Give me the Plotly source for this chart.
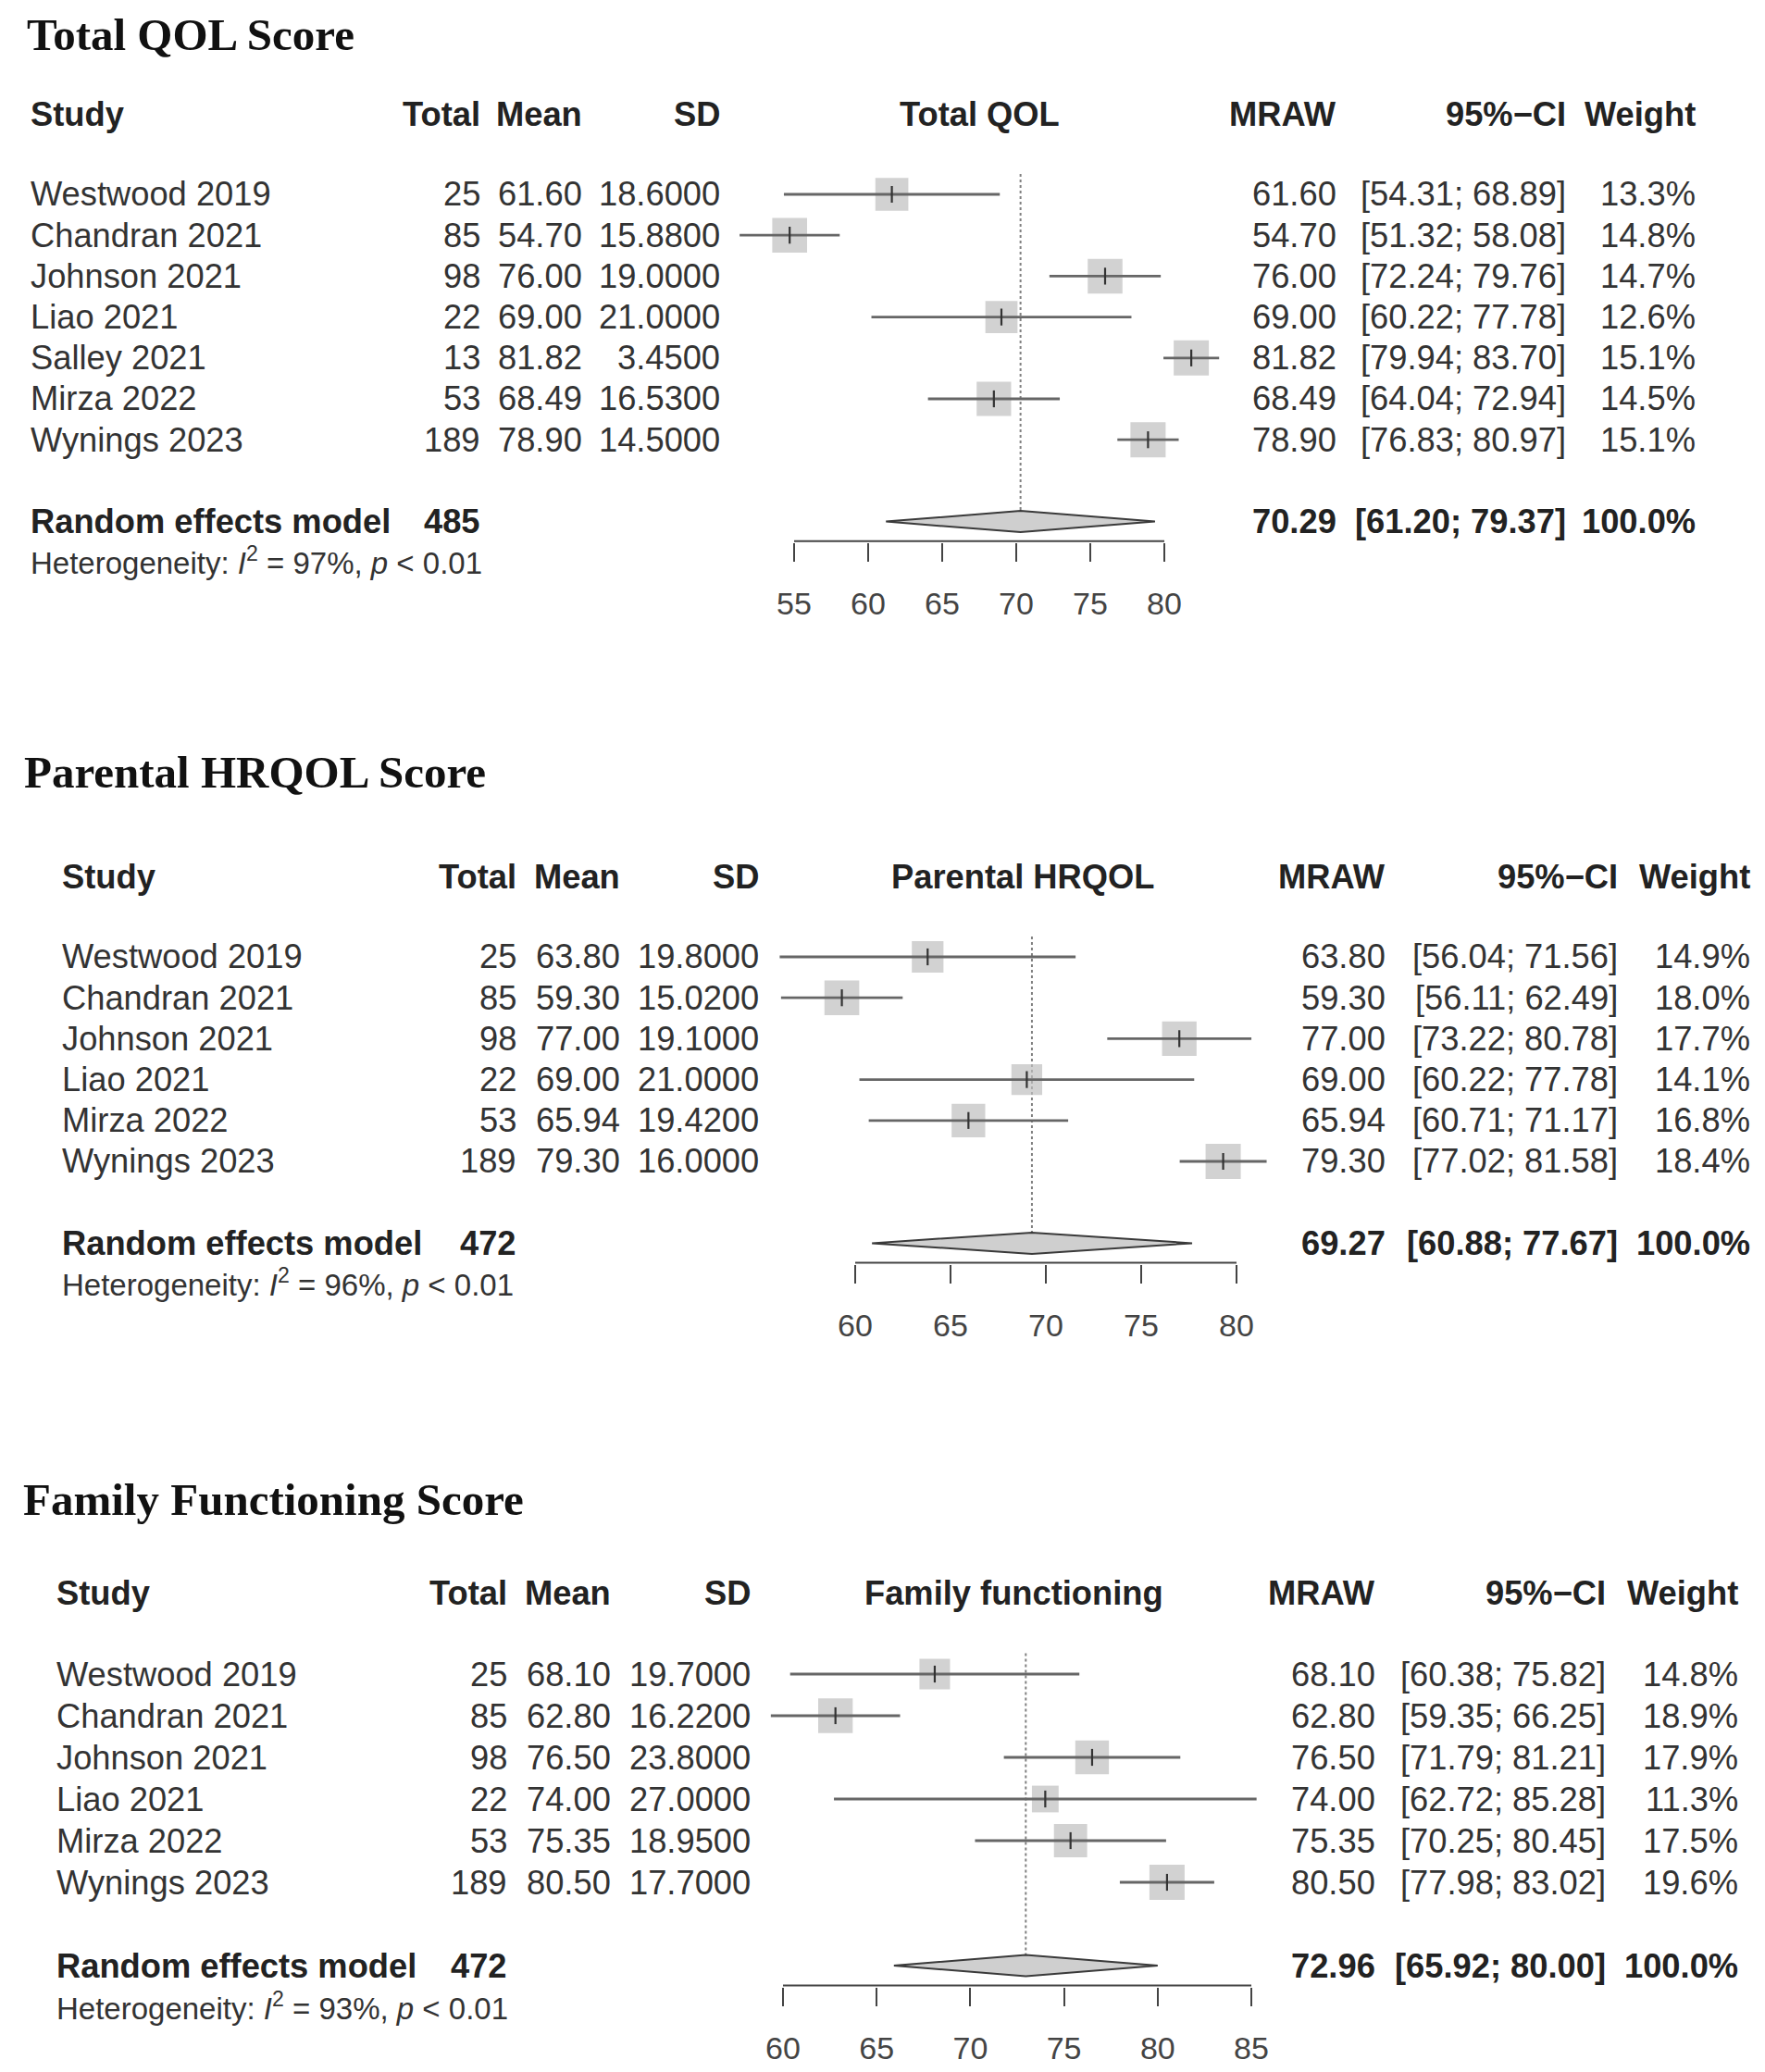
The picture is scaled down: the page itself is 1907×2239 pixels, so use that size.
import plotly.graph_objects as go

PAGE_W, PAGE_H = 1907, 2239
OFF = 8                      # default body margin of the html page
W, H = PAGE_W - 2 * OFF, PAGE_H - 2 * OFF

# ---------------- data ----------------
titles = ["Total QOL Score", "Parental HRQOL Score", "Family Functioning Score"]
plot_labels = ["Total QOL", "Parental HRQOL", "Family functioning"]

studies1 = ["Westwood 2019", "Chandran 2021", "Johnson 2021", "Liao 2021",
            "Salley 2021", "Mirza 2022", "Wynings 2023"]
total1 = [25, 85, 98, 22, 13, 53, 189]
mean1 = [61.60, 54.70, 76.00, 69.00, 81.82, 68.49, 78.90]
sd1 = [18.6, 15.88, 19.0, 21.0, 3.45, 16.53, 14.5]
lower1 = [54.31, 51.32, 72.24, 60.22, 79.94, 64.04, 76.83]
upper1 = [68.89, 58.08, 79.76, 77.78, 83.70, 72.94, 80.97]
weight1 = [13.3, 14.8, 14.7, 12.6, 15.1, 14.5, 15.1]
re1 = [70.29, 61.20, 79.37]
re_total1 = 485
i2_1 = 97
ticks1 = [55, 60, 65, 70, 75, 80]

studies2 = ["Westwood 2019", "Chandran 2021", "Johnson 2021", "Liao 2021",
            "Mirza 2022", "Wynings 2023"]
total2 = [25, 85, 98, 22, 53, 189]
mean2 = [63.80, 59.30, 77.00, 69.00, 65.94, 79.30]
sd2 = [19.8, 15.02, 19.1, 21.0, 19.42, 16.0]
lower2 = [56.04, 56.11, 73.22, 60.22, 60.71, 77.02]
upper2 = [71.56, 62.49, 80.78, 77.78, 71.17, 81.58]
weight2 = [14.9, 18.0, 17.7, 14.1, 16.8, 18.4]
re2 = [69.27, 60.88, 77.67]
re_total2 = 472
i2_2 = 96
ticks2 = [60, 65, 70, 75, 80]

studies3 = ["Westwood 2019", "Chandran 2021", "Johnson 2021", "Liao 2021",
            "Mirza 2022", "Wynings 2023"]
total3 = [25, 85, 98, 22, 53, 189]
mean3 = [68.10, 62.80, 76.50, 74.00, 75.35, 80.50]
sd3 = [19.7, 16.22, 23.8, 27.0, 18.95, 17.7]
lower3 = [60.38, 59.35, 71.79, 62.72, 70.25, 77.98]
upper3 = [75.82, 66.25, 81.21, 85.28, 80.45, 83.02]
weight3 = [14.8, 18.9, 17.9, 11.3, 17.5, 19.6]
re3 = [72.96, 65.92, 80.00]
re_total3 = 472
i2_3 = 93
ticks3 = [60, 65, 70, 75, 80, 85]

panels_data = [
    dict(studies=studies1, total=total1, mean=mean1, sd=sd1, lower=lower1, upper=upper1,
         weight=weight1, re=re1, re_total=re_total1, i2=i2_1, ticks=ticks1),
    dict(studies=studies2, total=total2, mean=mean2, sd=sd2, lower=lower2, upper=upper2,
         weight=weight2, re=re2, re_total=re_total2, i2=i2_2, ticks=ticks2),
    dict(studies=studies3, total=total3, mean=mean3, sd=sd3, lower=lower3, upper=upper3,
         weight=weight3, re=re3, re_total=re_total3, i2=i2_3, ticks=ticks3),
]

# ---------------- layout (page-pixel geometry) ----------------
geom = [
    dict(title_x=27, title_y=33, y0=210, d=44.2, px_t0=858, px_t1=1258,
         c_study=31, c_total=521, c_mean=631, c_sd=780, c_mraw=1446, c_ci=1694, c_w=1834),
    dict(title_x=24, title_y=836, y0=1034, d=44.2, px_t0=924, px_t1=1336,
         c_study=65, c_total=560, c_mean=672, c_sd=822, c_mraw=1499, c_ci=1750, c_w=1893),
    dict(title_x=23, title_y=1622, y0=1809, d=45.0, px_t0=846, px_t1=1352,
         c_study=59, c_total=550, c_mean=662, c_sd=813, c_mraw=1488, c_ci=1737, c_w=1880),
]


def paper_x(px):
    return (px - OFF) / W


def paper_y(py):
    return 1 - (py - OFF) / H


SANS = "Liberation Sans, Arial, sans-serif"
SERIF = "Liberation Serif, Times New Roman, serif"
TXT = "#333333"
HDR = "#222222"
FS = 36.3
FS_HET = 33
SQ_MAX = 38
TITLE_HALF = 31   # half height of the title text box, px

fig = go.Figure()
annotations = []
layout_axes = {}

for k, (pdat, g) in enumerate(zip(panels_data, geom), start=1):
    n = len(pdat["studies"])
    xr = f"x{k}" if k > 1 else "x"
    yr = f"y{k}" if k > 1 else "y"
    rows = list(range(n))
    re_row = n + 1
    hdr_row = -1.95
    het_row = re_row + 0.97
    axis_row = re_row + 0.48
    top_row = -2.7

    # x axis geometry
    t0, t1 = pdat["ticks"][0], pdat["ticks"][-1]
    s = (g["px_t1"] - g["px_t0"]) / (t1 - t0)
    xa, xb = t0 - 8, t1 + 8
    xdom = [paper_x(g["px_t0"] + (xa - t0) * s), paper_x(g["px_t0"] + (xb - t0) * s)]
    # y axis geometry
    y_bottom = axis_row + 0.03
    ydom = [paper_y(g["y0"] + y_bottom * g["d"]), paper_y(g["y0"] + top_row * g["d"])]

    sfx = str(k) if k > 1 else ""
    layout_axes[f"xaxis{sfx}"] = dict(
        domain=xdom, range=[xa, xb], anchor=yr, tickvals=pdat["ticks"],
        ticktext=[str(t) for t in pdat["ticks"]],
        ticks="outside", ticklen=20, tickwidth=2, tickcolor="#444444",
        showgrid=False, zeroline=False, showline=False, fixedrange=True,
        tickfont=dict(family=SANS, size=34, color="#444444"), ticklabelstandoff=16)
    layout_axes[f"yaxis{sfx}"] = dict(
        domain=ydom, range=[y_bottom, top_row], anchor=xr, visible=False,
        fixedrange=True)

    m, lo, hi = pdat["re"]
    wmax = max(pdat["weight"])
    sizes = [SQ_MAX * (w / wmax) ** 0.5 for w in pdat["weight"]]

    # reference dotted line
    fig.add_trace(go.Scatter(x=[m, m], y=[-0.5, re_row - 0.22], mode="lines",
                             line=dict(color="#808080", width=2, dash="dot"),
                             xaxis=xr, yaxis=yr, hoverinfo="skip", showlegend=False))
    # squares
    fig.add_trace(go.Scatter(x=pdat["mean"], y=rows, mode="markers",
                             marker=dict(symbol="square", size=sizes, color="#bfbfbf",
                                         line=dict(width=0)),
                             xaxis=xr, yaxis=yr, hoverinfo="skip", showlegend=False))
    # CI lines
    cx, cy = [], []
    for i in range(n):
        cx += [pdat["lower"][i], pdat["upper"][i], None]
        cy += [rows[i], rows[i], None]
    fig.add_trace(go.Scatter(x=cx, y=cy, mode="lines",
                             line=dict(color="#666666", width=2.8),
                             xaxis=xr, yaxis=yr, hoverinfo="skip", showlegend=False))
    # estimate ticks
    fig.add_trace(go.Scatter(x=pdat["mean"], y=rows, mode="markers",
                             marker=dict(symbol="line-ns", size=13,
                                         line=dict(width=2.2, color="#333333")),
                             xaxis=xr, yaxis=yr, hoverinfo="skip", showlegend=False))
    # diamond
    h = 11.5 / g["d"]
    fig.add_trace(go.Scatter(x=[lo, m, hi, m, lo], y=[re_row, re_row - h, re_row, re_row + h, re_row],
                             mode="lines", fill="toself", fillcolor="#cfcfcf",
                             line=dict(color="#3a3a3a", width=2),
                             xaxis=xr, yaxis=yr, hoverinfo="skip", showlegend=False))
    # axis line between first and last tick
    fig.add_trace(go.Scatter(x=[t0, t1], y=[axis_row, axis_row], mode="lines",
                             line=dict(color="#444444", width=2),
                             xaxis=xr, yaxis=yr, hoverinfo="skip", showlegend=False))

    def txt(px, row, text, anchor="right", bold=False, size=FS, color=TXT, xval=None):
        annotations.append(dict(
            x=paper_x(px) if xval is None else xval, xref="paper" if xval is None else xr,
            y=row, yref=yr, text=(f"<b>{text}</b>" if bold else text),
            showarrow=False, xanchor=anchor, yanchor="middle",
            font=dict(family=SANS, size=size, color=color)))

    # title (top-anchored so its box never leaves the page)
    annotations.append(dict(x=paper_x(g["title_x"]), xref="paper",
                            y=min(1.0, paper_y(g["title_y"] - TITLE_HALF)), yref="paper",
                            text=f"<b>{titles[k-1]}</b>", showarrow=False,
                            xanchor="left", yanchor="top",
                            font=dict(family=SERIF, size=49, color="#111111")))
    # headers
    txt(g["c_study"], hdr_row, "Study", "left", True, color=HDR)
    txt(g["c_total"], hdr_row, "Total", bold=True, color=HDR)
    txt(g["c_mean"], hdr_row, "Mean", bold=True, color=HDR)
    txt(g["c_sd"], hdr_row, "SD", bold=True, color=HDR)
    center = (min(pdat["lower"] + [lo]) + max(pdat["upper"] + [hi])) / 2
    txt(0, hdr_row, plot_labels[k-1], "center", True, color=HDR, xval=center)
    txt(g["c_mraw"], hdr_row, "MRAW", bold=True, color=HDR)
    txt(g["c_ci"], hdr_row, "95%\u2212CI", bold=True, color=HDR)
    txt(g["c_w"], hdr_row, "Weight", bold=True, color=HDR)

    for i in range(n):
        r = rows[i]
        txt(g["c_study"], r, pdat["studies"][i], "left")
        txt(g["c_total"], r, str(pdat["total"][i]))
        txt(g["c_mean"], r, f"{pdat['mean'][i]:.2f}")
        txt(g["c_sd"], r, f"{pdat['sd'][i]:.4f}")
        txt(g["c_mraw"], r, f"{pdat['mean'][i]:.2f}")
        txt(g["c_ci"], r, f"[{pdat['lower'][i]:.2f}; {pdat['upper'][i]:.2f}]")
        txt(g["c_w"], r, f"{pdat['weight'][i]:.1f}%")

    txt(g["c_study"], re_row, "Random effects model", "left", True, color=HDR)
    txt(g["c_total"], re_row, str(pdat["re_total"]), bold=True, color=HDR)
    txt(g["c_mraw"], re_row, f"{m:.2f}", bold=True, color=HDR)
    txt(g["c_ci"], re_row, f"[{lo:.2f}; {hi:.2f}]", bold=True, color=HDR)
    txt(g["c_w"], re_row, "100.0%", bold=True, color=HDR)
    # heterogeneity line sits below the axis range -> paper coordinates
    annotations.append(dict(
        x=paper_x(g["c_study"]), xref="paper",
        y=paper_y(g["y0"] + het_row * g["d"]), yref="paper",
        text=f"Heterogeneity: <i>I</i><sup>2</sup> = {pdat['i2']}%, <i>p</i> &lt; 0.01",
        showarrow=False, xanchor="left", yanchor="middle",
        font=dict(family=SANS, size=FS_HET, color=TXT)))

fig.update_layout(
    width=W, height=H, margin=dict(l=0, r=0, t=0, b=0),
    paper_bgcolor="white", plot_bgcolor="rgba(0,0,0,0)",
    showlegend=False, annotations=annotations, **layout_axes)

fig.write_html("out.html")
